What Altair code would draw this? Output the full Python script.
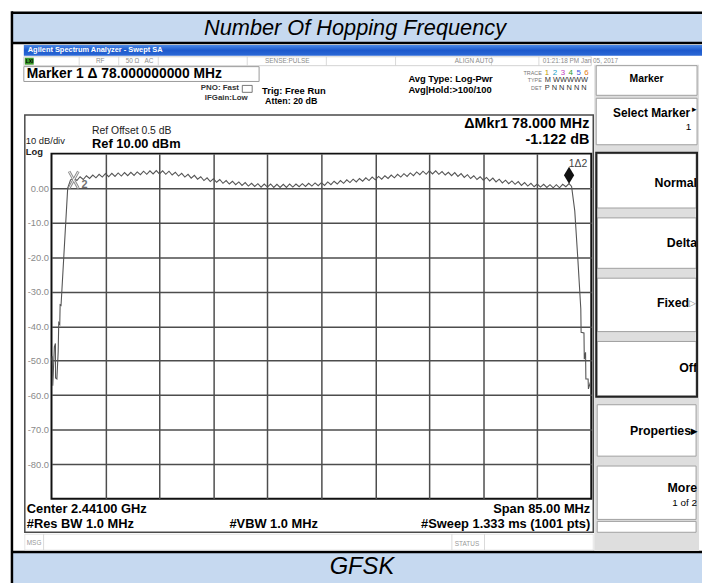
import altair as alt
import pandas as pd

FONT = "Liberation Sans"

# ---------------- data ----------------
start_mhz = 2398.5
stop_mhz = 2483.5
ref_dbm = 10
bottom_dbm = -90
x_grid_mhz = [2407.0, 2415.5, 2424.0, 2432.5, 2441.0, 2449.5, 2458.0, 2466.5, 2475.0]
y_grid_dbm = [0, -10, -20, -30, -40, -50, -60, -70, -80]

channel_mhz = list(range(2402, 2481))
channel_peak_dbm = [
    2.9, 3.3, 3.6, 3.8, 4.0, 4.2, 4.3, 4.4, 4.5, 4.6,
    4.7, 4.9, 5.0, 5.1, 5.0, 4.9, 4.6, 4.3, 4.0, 3.7,
    3.3, 3.0, 2.7, 2.5, 2.2, 2.0, 1.8, 1.6, 1.4, 1.3,
    1.2, 1.2, 1.1, 1.1, 1.2, 1.2, 1.3, 1.4, 1.5, 1.6,
    1.8, 2.0, 2.2, 2.4, 2.6, 2.8, 3.0, 3.2, 3.4, 3.6,
    3.8, 4.0, 4.2, 4.4, 4.7, 4.9, 5.0, 5.0, 4.8, 4.6,
    4.5, 4.2, 3.9, 3.6, 3.3, 3.1, 2.9, 2.6, 2.3, 2.1,
    1.9, 1.6, 1.4, 1.2, 1.1, 1.0, 1.0, 1.1, 1.3,
]
between_mhz = [c + 0.5 for c in range(2402, 2480)]
between_dip_dbm = [
    2.2, 2.5, 2.8, 3.0, 3.2, 3.3, 3.4, 3.5, 3.6, 3.7,
    3.9, 4.0, 4.1, 4.1, 4.0, 3.8, 3.5, 3.2, 2.9, 2.6,
    2.2, 1.9, 1.7, 1.4, 1.2, 1.0, 0.8, 0.6, 0.5, 0.3,
    0.3, 0.2, 0.2, 0.2, 0.3, 0.4, 0.5, 0.6, 0.7, 0.8,
    1.0, 1.2, 1.4, 1.6, 1.8, 2.0, 2.2, 2.4, 2.6, 2.8,
    3.0, 3.2, 3.4, 3.6, 3.9, 4.0, 4.1, 4.0, 3.8, 3.6,
    3.4, 3.1, 2.8, 2.5, 2.3, 2.1, 1.8, 1.5, 1.3, 1.1,
    0.8, 0.6, 0.4, 0.3, 0.2, 0.1, 0.1, 0.4,
]
left_edge_mhz = [2398.55, 2398.62, 2398.70, 2398.95, 2399.12, 2399.14, 2399.35,
                 2399.55, 2399.64, 2399.80, 2399.86, 2400.0, 2401.05, 2401.5]
left_edge_dbm = [-50.0, -48.7, -57.3, -46.0, -45.0, -55.0, -55.3,
                 -47.5, -39.0, -39.5, -33.8, -34.0, 0.0, 2.4]
right_edge_mhz = [2480.4, 2480.9, 2481.4, 2481.85, 2481.9, 2482.35, 2482.4,
                  2482.6, 2482.65, 2483.0, 2483.05, 2483.4]
right_edge_dbm = [0.5, -6.6, -21.0, -35.0, -41.8, -42.0, -49.6,
                  -47.6, -55.3, -55.3, -58.2, -56.0]

marker_mhz = [2480, 2402]
marker_dbm = [1.3, 2.4]
marker_label = ["1\u03942", "2"]

# ---------------- build tables ----------------
pts_mhz, pts_dbm = list(left_edge_mhz), list(left_edge_dbm)
for i, c in enumerate(channel_mhz):
    pts_mhz.append(c)
    pts_dbm.append(channel_peak_dbm[i])
    if i < len(between_mhz):
        pts_mhz.append(between_mhz[i])
        pts_dbm.append(between_dip_dbm[i])
pts_mhz += right_edge_mhz
pts_dbm += right_edge_dbm
trace_df = pd.DataFrame({"mhz": pts_mhz, "dbm": pts_dbm, "idx": range(len(pts_mhz))})
m1_df = pd.DataFrame({"mhz": [marker_mhz[0]], "dbm": [marker_dbm[0]], "lab": [marker_label[0]]})
m2_df = pd.DataFrame({"mhz": [marker_mhz[1]], "dbm": [marker_dbm[1]], "lab": [marker_label[1]]})
one = pd.DataFrame({"k": [1]})

# ---------------- scales / axes ----------------
GRID = "#4d4d4d"
x_enc = alt.X("mhz:Q",
              scale=alt.Scale(domain=[start_mhz, stop_mhz], nice=False, zero=False),
              axis=alt.Axis(values=x_grid_mhz, grid=True, labels=False, ticks=False,
                            domain=False, title=None, gridColor=GRID, gridWidth=1.5))
y_enc = alt.Y("dbm:Q",
              scale=alt.Scale(domain=[bottom_dbm, ref_dbm], nice=False, zero=False),
              axis=alt.Axis(values=y_grid_dbm, grid=True, ticks=False, domain=False, title=None,
                            labelExpr="datum.value == 0 ? '0.00' : '-' + format(-datum.value, '.1f')",
                            labelColor="#8a8a8a", labelFontSize=9.5, labelFont=FONT,
                            labelPadding=3, gridColor=GRID, gridWidth=1.5))

OX, OY = 52, 152  # page position of the plot origin


def box(x1, y1, x2, y2, fill="white", stroke=None, sw=1.0, opacity=1.0):
    kw = dict(fill=fill, fillOpacity=opacity)
    if stroke:
        kw.update(stroke=stroke, strokeWidth=sw)
    else:
        kw.update(strokeWidth=0)
    return alt.Chart(one).mark_rect(**kw).encode(
        x=alt.value(x1 - OX), x2=alt.value(x2 - OX),
        y=alt.value(y1 - OY), y2=alt.value(y2 - OY))


def line(x1, y1, x2, y2, color="black", sw=1.0):
    return alt.Chart(one).mark_rule(color=color, strokeWidth=sw).encode(
        x=alt.value(x1 - OX), x2=alt.value(x2 - OX),
        y=alt.value(y1 - OY), y2=alt.value(y2 - OY))


def label(s, x, y, size=10, weight="normal", align="left", color="black",
          style="normal", font=FONT):
    return alt.Chart(one).mark_text(
        fontSize=size, fontWeight=weight, align=align, baseline="middle",
        color=color, fontStyle=style, font=font).encode(
        x=alt.value(x - OX), y=alt.value(y - OY), text=alt.value(s))


BLUE = "#c6d9f0"
layers = []

# outer bands and frame
layers += [
    box(12, 9, 712, 40, fill=BLUE),
    line(12, 9.5, 712, 9.5, sw=2.5),
    line(12, 40, 712, 40, sw=2.5),
    box(12, 555, 712, 590, fill=BLUE),
    line(12, 555, 712, 555, sw=2.5),
    line(12, 8, 12, 590, sw=2.5),
    label("Number Of Hopping Frequency", 359, 24.5, size=22, style="italic", align="center"),
    label("GFSK", 366, 570, size=24, style="italic", align="center"),
]

# analyzer title bar
grad = {"gradient": "linear", "x1": 0, "y1": 0, "x2": 0, "y2": 1,
        "stops": [{"offset": 0, "color": "#4c8ae6"}, {"offset": 0.5, "color": "#1d59cc"},
                  {"offset": 1, "color": "#2b68d6"}]}
layers += [
    alt.Chart(one).mark_rect(fill=grad, strokeWidth=0).encode(
        x=alt.value(24 - OX), x2=alt.value(712 - OX), y=alt.value(42 - OY), y2=alt.value(53 - OY)),
    label("Agilent Spectrum Analyzer - Swept SA", 28, 47.5, size=7.5, weight="bold", color="white"),
]

# status row
layers += [
    box(24, 54, 598, 63, fill="white", stroke="#c8c8c8", sw=0.8),
    box(25, 55, 34, 62, fill="#3a9a2a"),
    label("LXI", 26, 58.5, size=5, weight="bold", color="black"),
]
for sx in [80, 120, 160, 250, 330, 400, 497, 545]:
    layers.append(line(sx, 54, sx, 63, color="#d0d0d0", sw=0.8))
for s, sx in [("RF", 97), ("50 \u03a9", 127), ("AC", 146), ("SENSE:PULSE", 268),
              ("ALIGN AUTO", 460), ("01:21:18 PM Jan 05, 2017", 549)]:
    layers.append(label(s, sx, 58.5, size=6.5, color="#8a8a8a"))

# marker readout + settings
layers += [
    box(24, 64, 262, 79, fill="white", stroke="#9a9a9a", sw=1),
    label("Marker 1 \u0394 78.000000000 MHz", 27, 71.5, size=14, weight="bold"),
    label("PNO: Fast", 203, 86, size=8, weight="bold", color="#333"),
    box(245, 83, 255, 90, fill="white", stroke="#555", sw=0.8),
    label("IFGain:Low", 207, 96, size=8, weight="bold", color="#333"),
    label("Trig: Free Run", 265, 89, size=9.5, weight="bold"),
    label("Atten: 20 dB", 268, 99, size=9, weight="bold"),
    label("Avg Type: Log-Pwr", 413, 77, size=9.5, weight="bold"),
    label("Avg|Hold:>100/100", 413, 88, size=9.5, weight="bold"),
    label("TRACE", 548, 70, size=5.5, align="right", color="#777"),
    label("TYPE", 548, 78, size=5.5, align="right", color="#777"),
    label("DET", 548, 86, size=5.5, align="right", color="#777"),
    label("M WWWWW", 551, 78, size=7.5, color="#333"),
    label("P N N N N N", 551, 86, size=7.5, color="#333"),
]
for i, (d, col) in enumerate(zip("123456", ["#c99b00", "#1aa0c8", "#c23cc2", "#2a9a2a", "#3a5ae0", "#e07a10"])):
    layers.append(label(d, 551 + 8 * i, 70, size=8, color=col))

# right soft-key panel
layers += [
    box(601, 62, 707, 554, fill="#dedede"),
    box(603, 63, 705, 93, fill="white", stroke="#a0a0a0"),
    label("Marker", 654, 77, size=10.5, weight="bold", align="center"),
    box(603, 96, 705, 143, fill="white", stroke="#a0a0a0"),
    label("Select Marker", 698, 111, size=12, weight="bold", align="right"),
    label("\u25b8", 700, 107, size=9),
    label("1", 699, 125, size=10, align="right"),
]
keys = [(152, 207, "Normal", 182), (217, 268, "Delta", 242), (278, 332, "Fixed", 303),
        (342, 397, "Off", 369), (406, 458, "Properties\u25b8", 433), (468, 522, "More", 490)]
for y1, y2, s, ty in keys:
    layers.append(box(604, y1, 704, y2, fill="white", stroke="#a0a0a0"))
for y1, y2, s, ty in keys:
    if s == "Fixed":
        layers.append(label("Fixed", 697, ty, size=12.5, weight="bold", align="right"))
        layers.append(label("\u25b7", 697, ty, size=9, color="#888"))
    elif s == "More":
        layers.append(label("More", 705, ty, size=12.5, weight="bold", align="right"))
        layers.append(label("1 of 2", 705, ty + 15, size=10, align="right"))
    else:
        layers.append(label(s, 705, ty, size=12.5, weight="bold", align="right"))
layers += [
    box(603, 151, 705, 398, fill="white", stroke="#222", sw=2, opacity=0),
    box(604, 524, 704, 535, fill="white", stroke="#a0a0a0"),
]

# graticule frame + annotations
layers += [
    box(25, 113, 600, 535, fill="white", stroke="#4a4a4a", sw=1.5, opacity=0),
    label("Ref Offset 0.5 dB", 93, 129, size=10.5, color="#222"),
    label("Ref 10.00 dBm", 93, 142, size=13, weight="bold"),
    label("10 dB/div", 26, 139.5, size=9.5, color="#222"),
    label("Log", 26, 150, size=9.5, weight="bold", color="#222"),
    label("\u0394Mkr1 78.000 MHz", 596, 122, size=14.5, weight="bold", align="right"),
    label("-1.122 dB", 596, 138.5, size=14.5, weight="bold", align="right"),
    label("Center 2.44100 GHz", 27, 512, size=13, weight="bold"),
    label("#Res BW 1.0 MHz", 27, 526.5, size=13, weight="bold"),
    label("#VBW 1.0 MHz", 232, 526.5, size=13, weight="bold"),
    label("Span 85.00 MHz", 597, 512, size=13, weight="bold", align="right"),
    label("#Sweep  1.333 ms (1001 pts)", 597, 527, size=13, weight="bold", align="right"),
    box(25, 537, 600, 553, fill="white", stroke="#dddddd", sw=0.8),
    line(44, 537, 44, 553, color="#d0d0d0", sw=0.8),
    line(457, 537, 457, 553, color="#d0d0d0", sw=0.8),
    line(490, 537, 490, 553, color="#d0d0d0", sw=0.8),
    label("MSG", 27, 546, size=6.5, color="#999"),
    label("STATUS", 460, 546.5, size=6.5, color="#999"),
]

# spectrum trace and markers
trace = alt.Chart(trace_df).mark_line(color="#555555", strokeWidth=1.1).encode(
    x=x_enc, y=y_enc, order="idx:Q")

x_shape = "M-0.55,-1L0.55,1M0.55,-1L-0.55,1"
m2_outer = alt.Chart(m2_df).mark_point(shape=x_shape, size=289, filled=False,
                                       stroke="#8c8c8c", strokeWidth=2.8, opacity=1).encode(x=x_enc, y=y_enc)
m2_inner = alt.Chart(m2_df).mark_point(shape=x_shape, size=289, filled=False,
                                       stroke="white", strokeWidth=0.9, opacity=1).encode(x=x_enc, y=y_enc)
m2_text = alt.Chart(m2_df).mark_text(dx=11, dy=5, fontSize=11, fontWeight="bold",
                                     color="#707070", font=FONT).encode(x=x_enc, y=y_enc, text="lab:N")
diamond = "M0,-1.9L0.58,-0.95L0,0L-0.58,-0.95Z"
m1_pt = alt.Chart(m1_df).mark_point(shape=diamond, size=320, filled=True, color="#111111",
                                    opacity=1).encode(x=x_enc, y=y_enc)
m1_text = alt.Chart(m1_df).mark_text(dx=9, dy=-20, fontSize=10.5, color="#444",
                                     font=FONT).encode(x=x_enc, y=y_enc, text="lab:N")

chart = alt.layer(*layers, trace, m1_text, m1_pt, m2_outer, m2_inner, m2_text).properties(
    width=546, height=349,
    autosize=alt.AutoSizeParams(type="none"),
    padding={"left": 44, "top": 144, "right": 112, "bottom": 82},
    background="white",
).configure_view(stroke="#111111", strokeWidth=2)

chart.save("out.html", embed_options={"renderer": "svg", "actions": False})
